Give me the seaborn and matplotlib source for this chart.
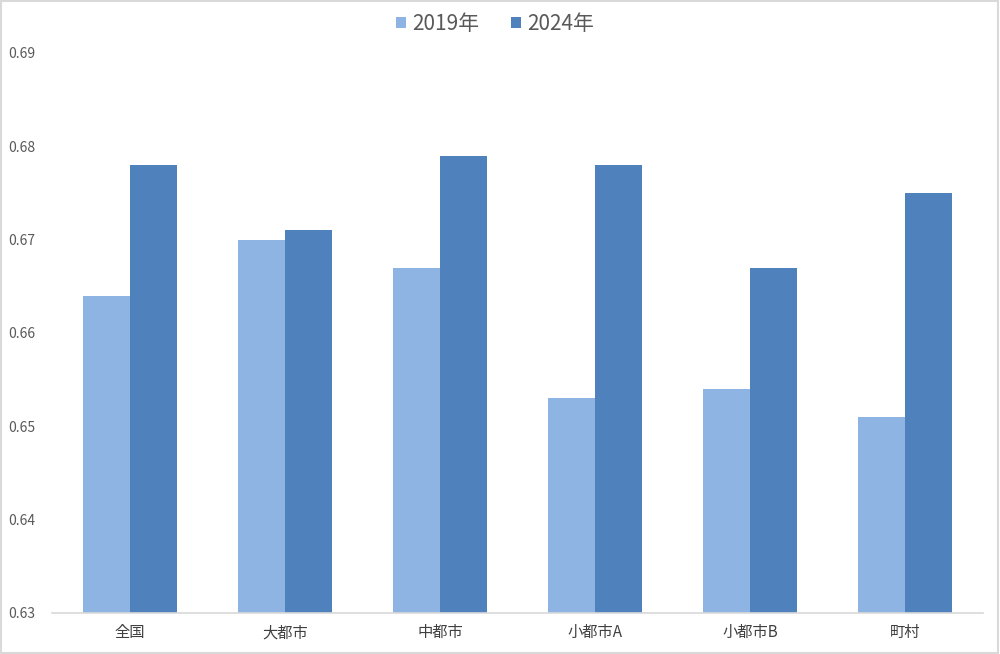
import matplotlib
matplotlib.use("Agg")
import matplotlib.pyplot as plt
import seaborn as sns
import pandas as pd
from matplotlib.patches import Rectangle

categories = ["全国", "大都市", "中都市", "小都市A", "小都市B", "町村"]
series_names = ["2019年", "2024年"]
values_2019 = [0.664, 0.670, 0.667, 0.653, 0.654, 0.651]
values_2024 = [0.678, 0.671, 0.679, 0.678, 0.667, 0.675]
y_ticks = [0.63, 0.64, 0.65, 0.66, 0.67, 0.68, 0.69]

df = pd.DataFrame({
    "category": categories * 2,
    "year": [series_names[0]] * len(categories) + [series_names[1]] * len(categories),
    "value": values_2019 + values_2024,
})

sns.set_theme(style="white")
plt.rcParams['font.family'] = ['Noto Sans CJK JP', 'DejaVu Sans']

fig = plt.figure(figsize=(10, 6.54), dpi=100)
ax = fig.add_axes([0.052, 0.0627, 0.931, 0.8563])

palette = {"2019年": "#8EB4E3", "2024年": "#4F81BD"}
sns.barplot(data=df, x="category", y="value", hue="year", palette=palette,
            order=categories, hue_order=series_names, width=0.605,
            saturation=1, ax=ax, edgecolor="none")

ax.set_ylim(0.63, 0.69)
ax.set_yticks(y_ticks)
ax.set_yticklabels([f"{t:.2f}" for t in y_ticks], color="#595959", fontsize=10)
ax.set_xlim(-0.5, len(categories) - 0.5)
ax.tick_params(axis="x", labelsize=11, colors="#404040", length=0, pad=8)
ax.tick_params(axis="y", length=0, pad=12)
for lbl in ax.get_xticklabels():
    lbl.set_color("#404040")
ax.set_xlabel("")
ax.set_ylabel("")
for s in ["top", "right", "left"]:
    ax.spines[s].set_visible(False)
ax.spines["bottom"].set_color("#D9D9D9")
ax.spines["bottom"].set_linewidth(1.2)
ax.grid(False)

leg = ax.legend(loc="upper center", bbox_to_anchor=(0.476, 1.105), ncol=2,
                frameon=False, fontsize=15, handlelength=0.5, handleheight=0.5,
                columnspacing=1.5, handletextpad=0.3)
for t in leg.get_texts():
    t.set_color("#595959")

fig.patches.append(Rectangle((0.001, 0.002), 0.997, 0.996, transform=fig.transFigure,
                             fill=False, edgecolor="#D9D9D9", linewidth=1.5))

fig.savefig("out.png", dpi=100)
